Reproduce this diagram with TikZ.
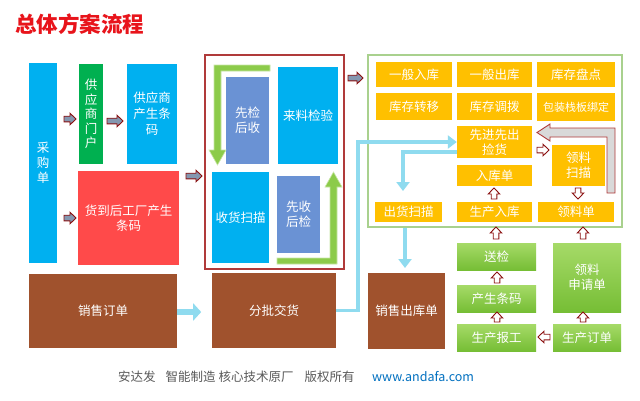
\documentclass[tikz,border=0pt]{standalone}
\usepackage{fontspec}
\newfontfamily\cjk{Noto Sans CJK SC}
\usetikzlibrary{arrows.meta,calc}
\definecolor{cblue}{HTML}{00B0F0}
\definecolor{cgreen}{HTML}{00B050}
\definecolor{cred}{HTML}{FF4A4A}
\definecolor{csteel}{HTML}{6A92D4}
\definecolor{cbrown}{HTML}{A0522D}
\definecolor{cyellow}{HTML}{FFC000}
\definecolor{gtop}{HTML}{A6DA68}
\definecolor{gbot}{HTML}{76BE35}
\definecolor{clb}{HTML}{8FDBEF}
\definecolor{cframe}{HTML}{B03A3A}
\definecolor{cgframe}{HTML}{A9D18E}
\definecolor{cdred}{HTML}{8B1010}
\definecolor{cbg}{HTML}{8497B0}
\definecolor{cgl}{HTML}{8CCB4A}
\definecolor{cgledge}{HTML}{C8E6A6}
\definecolor{ctitle}{HTML}{E8141B}
\definecolor{cfoot}{HTML}{595959}
\definecolor{curl}{HTML}{0070C0}
\newcommand\bx[7][]{\node[box,#1,minimum width={(#5-#3)*1pt},minimum height={(#6-#4)*1pt}] (#2) at ({(#3+#5)/2},{(#4+#6)/2}) {#7};}
\newcommand\blkarr[5][]{\draw[#1, shift={(#2,#3)}, rotate=#4] (0,-2.8) -- ({#5-6},-2.8) -- ({#5-6},-5.8) -- (#5,0) -- ({#5-6},5.8) -- ({#5-6},2.8) -- (0,2.8) -- cycle;}
\begin{document}
\begin{tikzpicture}[x=1pt,y=-1pt,
  box/.style={rectangle, inner sep=0pt, text=white, align=center, font=\cjk\fontsize{12.5}{15}\selectfont},
  gbox/.style={top color=gtop, bottom color=gbot},
  lbline/.style={draw=clb, line width=3.5pt},
  tip/.style={-{Triangle[width=13pt,length=9pt]}},
  lefta/.style={draw=cdred, fill=cbg, line width=0.9pt},
  outa/.style={draw=cdred, fill=white, line width=0.9pt}]
\useasboundingbox[fill=white] (0,0) rectangle (640,400);
\node[anchor=west, text=ctitle, inner sep=0pt, font=\cjk\bfseries\fontsize{21.5}{25}\selectfont] (title) at (15,24) {总体方案流程};
% left column
\bx[fill=cblue]{cgd}{29}{63}{57}{263}{采\\购\\单}
\bx[fill=cgreen,font=\cjk\fontsize{12.5}{14.5}\selectfont]{gysmh}{79}{64}{103}{164}{供\\应\\商\\门\\户}
\bx[fill=cblue,font=\cjk\fontsize{12.5}{16}\selectfont]{gystm}{127}{64}{177}{164}{供应商\\产生条\\码}
\bx[fill=cred]{hdh}{78}{171}{179}{265}{货到后工厂产生\\条码}
% red frame
\bx[draw=cframe, line width=1.2pt]{jyframe}{205}{55}{344}{269}{}
\bx[fill=csteel]{xjhs}{226}{77}{269}{164}{先检\\后收}
\bx[fill=cblue]{lljy}{278}{67}{338}{164}{来料检验}
\bx[fill=cblue]{shsm}{212}{172}{269}{263}{收货扫描}
\bx[fill=csteel]{xshj}{277}{176}{320}{253}{先收\\后检}
% green L arrows
\draw[fill=cgl, draw=cgledge, line width=0.6pt] (270,65) -- (214,65) -- (214,150) -- (209,150) -- (217.5,165) -- (226,150) -- (221,150) -- (221,71) -- (270,71) -- cycle;
\draw[fill=cgl, draw=cgledge, line width=0.6pt] (277,264) -- (337,264) -- (337,187) -- (342,187) -- (333.5,172) -- (325,187) -- (330,187) -- (330,258) -- (277,258) -- cycle;
% green frame
\bx[draw=cgframe, line width=1.4pt]{ckframe}{368}{55}{622}{227}{}
\bx[fill=cyellow]{ybrk}{376}{62}{452}{87}{一般入库}
\bx[fill=cyellow]{ybck}{457}{62}{532}{87}{一般出库}
\bx[fill=cyellow]{kcpd}{537}{62}{615}{87}{库存盘点}
\bx[fill=cyellow]{kczy}{376}{93}{452}{120}{库存转移}
\bx[fill=cyellow]{kcdb}{457}{93}{532}{120}{库存调拨}
\bx[fill=cyellow,font=\cjk\fontsize{11}{13}\selectfont]{bzzb}{537}{93}{615}{121}{包装栈板绑定}
\bx[fill=cyellow]{xjxc}{457}{126}{532}{158}{先进先出\\捡货}
\bx[fill=cyellow]{rkd}{457}{165}{532}{186}{入库单}
\bx[fill=cyellow]{llsm}{552}{145}{605}{186}{领料\\扫描}
\bx[fill=cyellow]{chsm}{375}{202}{442}{222}{出货扫描}
\bx[fill=cyellow]{scrk}{457}{202}{532}{222}{生产入库}
\bx[fill=cyellow]{lld}{538}{202}{614}{222}{领料单}
% big gray return arrow
\draw[fill=black!15, draw=cframe, line width=0.9pt] (615,193) -- (615,128) -- (550,128) -- (550,124) -- (537,132.5) -- (550,141) -- (550,137) -- (607,137) -- (607,193) -- cycle;
% brown boxes
\bx[fill=cbrown]{xsdd}{29}{274}{177}{348}{销售订单}
\bx[fill=cbrown]{fpjh}{212}{273}{336}{348}{分批交货}
\bx[fill=cbrown]{xsck}{368}{273}{445}{349}{销售出库单}
% green production boxes
\bx[gbox]{sj}{457}{243}{536}{270}{送检}
\bx[gbox]{sctm}{457}{285}{536}{312}{产生条码}
\bx[gbox]{scbg}{457}{324}{536}{351}{生产报工}
\bx[gbox]{llsq}{553}{243}{621}{312}{领料\\申请单}
\bx[gbox]{scdd}{553}{324}{621}{351}{生产订单}
% light blue connectors
\coordinate (c1) at (358,142);
\draw[lbline, tip] (fpjh.east) -- (c1 |- fpjh.east) -- (c1) -- (xjxc.west);
\coordinate (c2) at (403,152);
\coordinate (c2e) at (403,191);
\draw[lbline, tip] (xjxc.west |- c2) -- (c2) -- (c2e);
\coordinate (c3s) at (405,228);
\coordinate (c3e) at (405,268);
\draw[lbline, tip] (c3s) -- (c3e);
\draw[draw=clb, line width=6pt, -{Triangle[width=17pt,length=8pt]}] (xsdd.east |- 183,312) -- ++(24,0);
% small block arrows (left)
\blkarr[lefta]{64}{119}{0}{12}
\blkarr[lefta]{107}{121}{0}{16}
\blkarr[lefta]{64}{218}{0}{12}
\blkarr[lefta]{186}{176}{0}{16}
\blkarr[lefta]{348}{78}{0}{15}
% small outlined arrows
\blkarr[outa]{494}{199}{90}{11}
\blkarr[outa]{537}{150}{0}{12}
\blkarr[outa]{578}{188}{-90}{11}
\blkarr[outa]{496}{239}{90}{12}
\blkarr[outa]{497}{283}{90}{11}
\blkarr[outa]{497}{322}{90}{10}
\blkarr[outa]{583}{322}{90}{10}
\blkarr[outa]{583}{239}{90}{12}
\blkarr[outa]{550}{337}{180}{12}
% footer
\node[anchor=west, text=cfoot, inner sep=0pt, font=\cjk\fontsize{12.5}{14}\selectfont] (foot) at (118,377) {安达发\hspace{10pt}智能制造 核心技术原厂\hspace{11pt}版权所有};
\node[anchor=west, text=curl, inner sep=0pt, font=\cjk\fontsize{12.5}{14}\selectfont] (url) at (372,377) {www.andafa.com};
\end{tikzpicture}
\end{document}
